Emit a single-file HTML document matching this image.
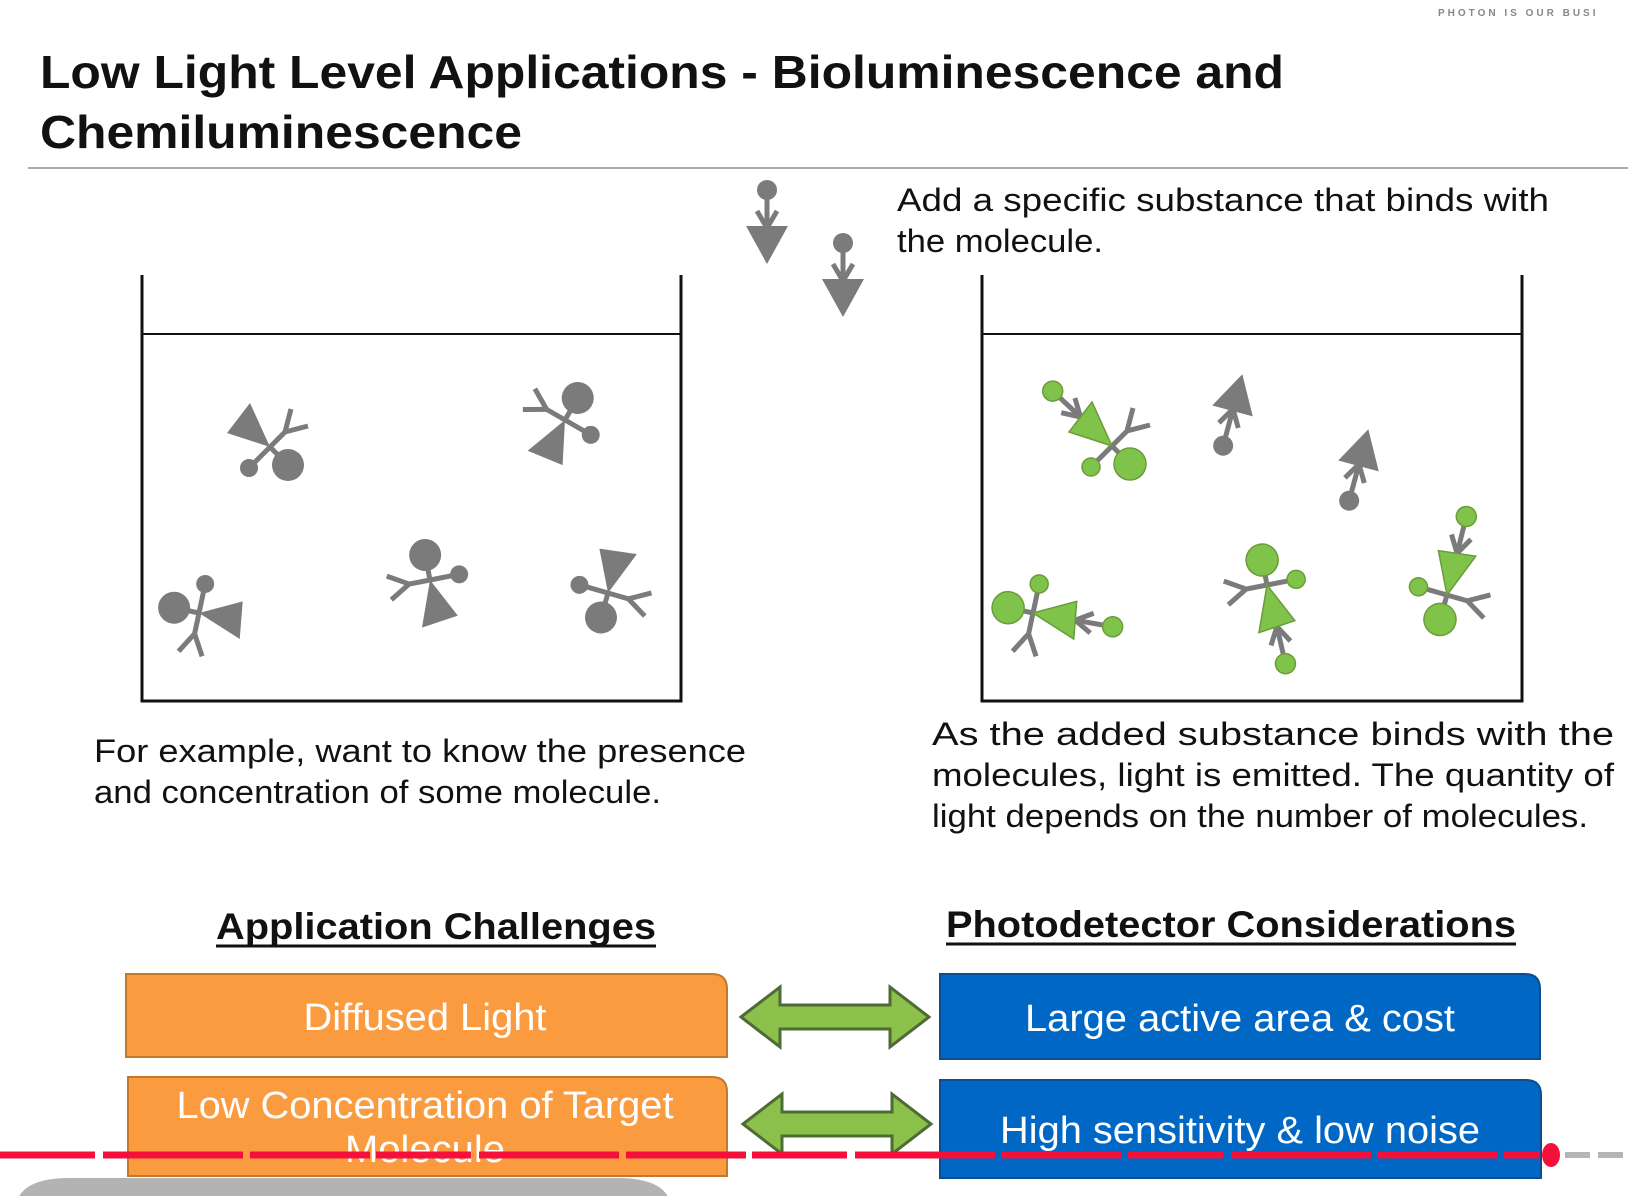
<!DOCTYPE html>
<html><head><meta charset="utf-8"><style>
html,body{margin:0;padding:0;background:#fff}
svg{display:block}
text{font-family:"Liberation Sans",sans-serif}
</style></head><body>
<svg width="1628" height="1196" xmlns="http://www.w3.org/2000/svg">
<defs>
<g id="mol">
 <line x1="0" y1="0" x2="18" y2="18"/>
 <line x1="0" y1="0" x2="-21" y2="21"/>
 <line x1="0" y1="0" x2="15" y2="-15"/>
 <line x1="15" y1="-15" x2="21" y2="-38"/>
 <line x1="15" y1="-15" x2="38" y2="-21"/>
</g>
<g id="sub">
 <line x1="0" y1="0" x2="0" y2="-38"/>
 <line x1="0" y1="0" x2="-10" y2="-17"/>
 <line x1="0" y1="0" x2="10" y2="-17"/>
</g>
</defs>
<text x="1438" y="16" font-size="10" font-weight="bold" fill="#888" letter-spacing="3">PHOTON IS OUR BUSI</text>
<text x="40" y="88" font-size="46" font-weight="bold" fill="#111" textLength="1244" lengthAdjust="spacingAndGlyphs">Low Light Level Applications - Bioluminescence and</text>
<text x="40" y="148" font-size="46" font-weight="bold" fill="#111" textLength="482" lengthAdjust="spacingAndGlyphs">Chemiluminescence</text>
<line x1="28" y1="168" x2="1628" y2="168" stroke="#aaa" stroke-width="2"/>

<text x="897" y="211" font-size="32" fill="#111" textLength="652" lengthAdjust="spacingAndGlyphs">Add a specific substance that binds with</text>
<text x="897" y="252" font-size="32" fill="#111" textLength="206" lengthAdjust="spacingAndGlyphs">the molecule.</text>

<g fill="none" stroke="#111" stroke-width="3">
<polyline points="142,275 142,701 681,701 681,275"/>
<line x1="142" y1="334" x2="681" y2="334" stroke-width="2"/>
<polyline points="982,275 982,701 1522,701 1522,275"/>
<line x1="982" y1="334" x2="1522" y2="334" stroke-width="2"/>
</g>

<g stroke="#7b7b7b" stroke-width="5" fill="#7b7b7b">
 <g transform="translate(270,447)"><use href="#mol"/><polygon points="0,0 -43,-14 -20,-44" stroke="none"/><circle cx="18" cy="18" r="16" stroke="none"/><circle cx="-21" cy="21" r="9" stroke="none"/></g>
 <g transform="translate(565,420) rotate(-105)"><use href="#mol"/><polygon points="0,0 -43,-14 -20,-44" stroke="none"/><circle cx="18" cy="18" r="16" stroke="none"/><circle cx="-21" cy="21" r="9" stroke="none"/></g>
 <g transform="translate(199,613) rotate(147)"><use href="#mol"/><polygon points="0,0 -43,-14 -20,-44" stroke="none"/><circle cx="18" cy="18" r="16" stroke="none"/><circle cx="-21" cy="21" r="9" stroke="none"/></g>
 <g transform="translate(430,580) rotate(-146)"><use href="#mol"/><polygon points="0,0 -43,-14 -20,-44" stroke="none"/><circle cx="18" cy="18" r="16" stroke="none"/><circle cx="-21" cy="21" r="9" stroke="none"/></g>
 <g transform="translate(608,593) rotate(61)"><use href="#mol"/><polygon points="0,0 -43,-14 -20,-44" stroke="none"/><circle cx="18" cy="18" r="16" stroke="none"/><circle cx="-21" cy="21" r="9" stroke="none"/></g>
 <g transform="translate(767,228)"><use href="#sub"/><circle cx="0" cy="-38" r="10" stroke="none"/><polygon points="-21,-2 21,-2 0,36" stroke="none"/></g>
 <g transform="translate(843,281)"><use href="#sub"/><circle cx="0" cy="-38" r="10" stroke="none"/><polygon points="-21,-2 21,-2 0,36" stroke="none"/></g>
 <g transform="translate(1233,409) rotate(195)"><use href="#sub"/><circle cx="0" cy="-38" r="10" stroke="none"/><polygon points="-21,-2 21,-2 0,36" stroke="none"/></g>
 <g transform="translate(1359,464) rotate(195)"><use href="#sub"/><circle cx="0" cy="-38" r="10" stroke="none"/><polygon points="-21,-2 21,-2 0,36" stroke="none"/></g>
</g>

<g>
 <g transform="translate(1112,446)">
  <g stroke="#7b7b7b" stroke-width="5"><use href="#mol"/><g transform="translate(-31.5,-29) rotate(-47)"><use href="#sub"/></g></g>
  <g fill="#80c34a" stroke="#6b9c3b" stroke-width="1.5"><polygon points="0,0 -43,-14 -20,-44"/><circle cx="18" cy="18" r="16"/><circle cx="-21" cy="21" r="9"/><g transform="translate(-31.5,-29) rotate(-47)"><circle cx="0" cy="-38" r="10"/></g></g>
 </g>
 <g transform="translate(1033,613) rotate(147)">
  <g stroke="#7b7b7b" stroke-width="5"><use href="#mol"/><g transform="translate(-31.5,-29) rotate(-47)"><use href="#sub"/></g></g>
  <g fill="#80c34a" stroke="#6b9c3b" stroke-width="1.5"><polygon points="0,0 -43,-14 -20,-44"/><circle cx="18" cy="18" r="16"/><circle cx="-21" cy="21" r="9"/><g transform="translate(-31.5,-29) rotate(-47)"><circle cx="0" cy="-38" r="10"/></g></g>
 </g>
 <g transform="translate(1267,585) rotate(-146)">
  <g stroke="#7b7b7b" stroke-width="5"><use href="#mol"/><g transform="translate(-31.5,-29) rotate(-47)"><use href="#sub"/></g></g>
  <g fill="#80c34a" stroke="#6b9c3b" stroke-width="1.5"><polygon points="0,0 -43,-14 -20,-44"/><circle cx="18" cy="18" r="16"/><circle cx="-21" cy="21" r="9"/><g transform="translate(-31.5,-29) rotate(-47)"><circle cx="0" cy="-38" r="10"/></g></g>
 </g>
 <g transform="translate(1447,595) rotate(61)">
  <g stroke="#7b7b7b" stroke-width="5"><use href="#mol"/><g transform="translate(-31.5,-29) rotate(-47)"><use href="#sub"/></g></g>
  <g fill="#80c34a" stroke="#6b9c3b" stroke-width="1.5"><polygon points="0,0 -43,-14 -20,-44"/><circle cx="18" cy="18" r="16"/><circle cx="-21" cy="21" r="9"/><g transform="translate(-31.5,-29) rotate(-47)"><circle cx="0" cy="-38" r="10"/></g></g>
 </g>
</g>

<text x="94" y="762" font-size="32" fill="#111" textLength="652" lengthAdjust="spacingAndGlyphs">For example, want to know the presence</text>
<text x="94" y="803" font-size="32" fill="#111" textLength="567" lengthAdjust="spacingAndGlyphs">and concentration of some molecule.</text>
<text x="932" y="745" font-size="32" fill="#111" textLength="682" lengthAdjust="spacingAndGlyphs">As the added substance binds with the</text>
<text x="932" y="786" font-size="32" fill="#111" textLength="682" lengthAdjust="spacingAndGlyphs">molecules, light is emitted. The quantity of</text>
<text x="932" y="827" font-size="32" fill="#111" textLength="656" lengthAdjust="spacingAndGlyphs">light depends on the number of molecules.</text>

<text x="216" y="939" font-size="37" font-weight="bold" fill="#111" textLength="440" lengthAdjust="spacingAndGlyphs">Application Challenges</text>
<line x1="216" y1="946" x2="656" y2="946" stroke="#111" stroke-width="3"/>
<text x="946" y="937" font-size="37" font-weight="bold" fill="#111" textLength="570" lengthAdjust="spacingAndGlyphs">Photodetector Considerations</text>
<line x1="946" y1="944" x2="1516" y2="944" stroke="#111" stroke-width="3"/>

<g stroke="#c0792e" stroke-width="2" fill="#fb9b40">
<path d="M126,974 H712 Q727,974 727,989 V1057 H126 Z"/>
<path d="M128,1077 H712 Q727,1077 727,1092 V1176 H128 Z"/>
</g>
<g stroke="#0b4f8f" stroke-width="2" fill="#0068c4">
<path d="M940,974 H1525 Q1540,974 1540,989 V1059 H940 Z"/>
<path d="M940,1080 H1526 Q1541,1080 1541,1095 V1178 H940 Z"/>
</g>
<g fill="#fff" font-size="38" text-anchor="middle">
<text x="425" y="1030" textLength="243" lengthAdjust="spacingAndGlyphs">Diffused Light</text>
<text x="1240" y="1031" textLength="430" lengthAdjust="spacingAndGlyphs">Large active area &amp; cost</text>
<text x="425" y="1118" textLength="497" lengthAdjust="spacingAndGlyphs">Low Concentration of Target</text>
<text x="425" y="1162" textLength="160" lengthAdjust="spacingAndGlyphs">Molecule</text>
<text x="1240" y="1143" textLength="480" lengthAdjust="spacingAndGlyphs">High sensitivity &amp; low noise</text>
</g>

<g fill="#8bc14a" stroke="#4f6b35" stroke-width="3">
<path d="M741,1017 L780,987 V1005 H890 V987 L929,1017 L890,1047 V1029 H780 V1047 Z"/>
<path d="M743,1124 L782,1094 V1112 H892 V1094 L931,1124 L892,1154 V1136 H782 V1154 Z"/>
</g>

<line x1="0" y1="1155" x2="1540" y2="1155" stroke="#f5103c" stroke-width="7" stroke-dasharray="95 8 140 7 120 6"/>
<ellipse cx="1551" cy="1155" rx="9" ry="12" fill="#f5103c"/>
<line x1="1565" y1="1155" x2="1628" y2="1155" stroke="#b5b5b5" stroke-width="6" stroke-dasharray="25 8"/>
<path d="M16,1196 V1210 Q16,1178 70,1178 H617 Q671,1178 671,1210 V1196 Z" fill="#b3b3b3"/>
</svg>
</body></html>
